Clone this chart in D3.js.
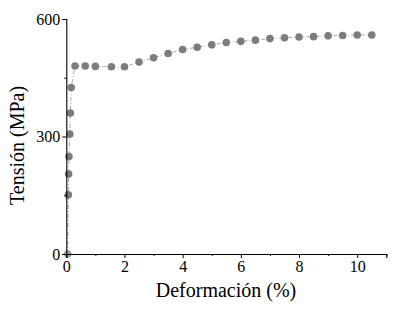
<!DOCTYPE html>
<html><head><meta charset="utf-8">
<script src="https://cdn.jsdelivr.net/npm/d3@7"></script>
<style>
body{margin:0;background:#fff;}
text{font-family:"Liberation Serif","Times New Roman",serif;fill:#000;}
</style></head>
<body><svg id="c" width="401" height="310"></svg>
<script>
const strain = [0.05, 0.07, 0.08, 0.09, 0.12, 0.14, 0.17, 0.3, 0.65, 1.0, 1.55, 2.0, 2.5, 3.0, 3.5, 4.0, 4.5, 5.0, 5.5, 6.0, 6.5, 7.0, 7.5, 8.0, 8.5, 9.0, 9.5, 10.0, 10.5];
const stress = [0, 151, 204, 249, 306, 360, 425, 480, 480, 479, 478, 478, 490, 501, 512, 522, 528, 534, 540, 543, 546, 550, 552, 554, 555, 557, 558, 559, 559];
const xTicks = [0, 2, 4, 6, 8, 10];
const xMinor = [1, 3, 5, 7, 9, 11];
const yTicks = [0, 300, 600];
const yMinor = [150, 450];
const xTitle = "Deformación (%)";
const yTitle = "Tensión (MPa)";

const svg = d3.select("#c");
const L = 66.3, R = 386.3, T = 19, B = 254;
const x = d3.scaleLinear().domain([0, 11]).range([L, R]);
const y = d3.scaleLinear().domain([0, 600]).range([B, T]);

const data = strain.map((s, i) => ({s, v: stress[i]}));

svg.append("path").datum(data)
  .attr("fill", "none").attr("stroke", "#a8a8a8").attr("stroke-width", 1)
  .attr("stroke-dasharray", "4,2,1,2")
  .attr("d", d3.line().x(d => x(d.s)).y(d => y(d.v)));

svg.selectAll("circle.pt").data(data).join("circle").attr("class", "pt")
  .attr("cx", d => x(d.s)).attr("cy", d => y(d.v)).attr("r", 3.8)
  .attr("fill", (d, i) => i === 0 ? "#a0a0a0" : "#7c7c7c");

const xa = svg.append("g").attr("transform", `translate(0,${B})`)
  .call(d3.axisBottom(x).tickValues(xTicks).tickSize(4).tickPadding(3).tickFormat(d3.format("d")));
const xm = svg.append("g").attr("transform", `translate(0,${B})`)
  .call(d3.axisBottom(x).tickValues(xMinor).tickSize(2).tickFormat(""));
xm.select(".domain").remove();
const ya = svg.append("g").attr("transform", `translate(${L},0)`)
  .call(d3.axisLeft(y).tickValues(yTicks).tickSize(4).tickPadding(2).tickFormat(d3.format("d")));
const ym = svg.append("g").attr("transform", `translate(${L},0)`)
  .call(d3.axisLeft(y).tickValues(yMinor).tickSize(2).tickFormat(""));
ym.select(".domain").remove();
svg.selectAll(".domain").attr("stroke", "#000").attr("stroke-width", 1.1);
svg.selectAll(".tick line").attr("stroke", "#000");
[xa, ya].forEach(g => g.selectAll("text").style("font-family", "'Liberation Serif',serif").style("font-size", "16px").attr("fill", "#000"));

svg.append("text").attr("x", 226).attr("y", 297)
  .attr("text-anchor", "middle").style("font-size", "20px").text(xTitle);
svg.append("text").attr("transform", `translate(24,${(T + B) / 2 + 9}) rotate(-90)`)
  .attr("text-anchor", "middle").style("font-size", "20px").text(yTitle);
</script></body></html>
